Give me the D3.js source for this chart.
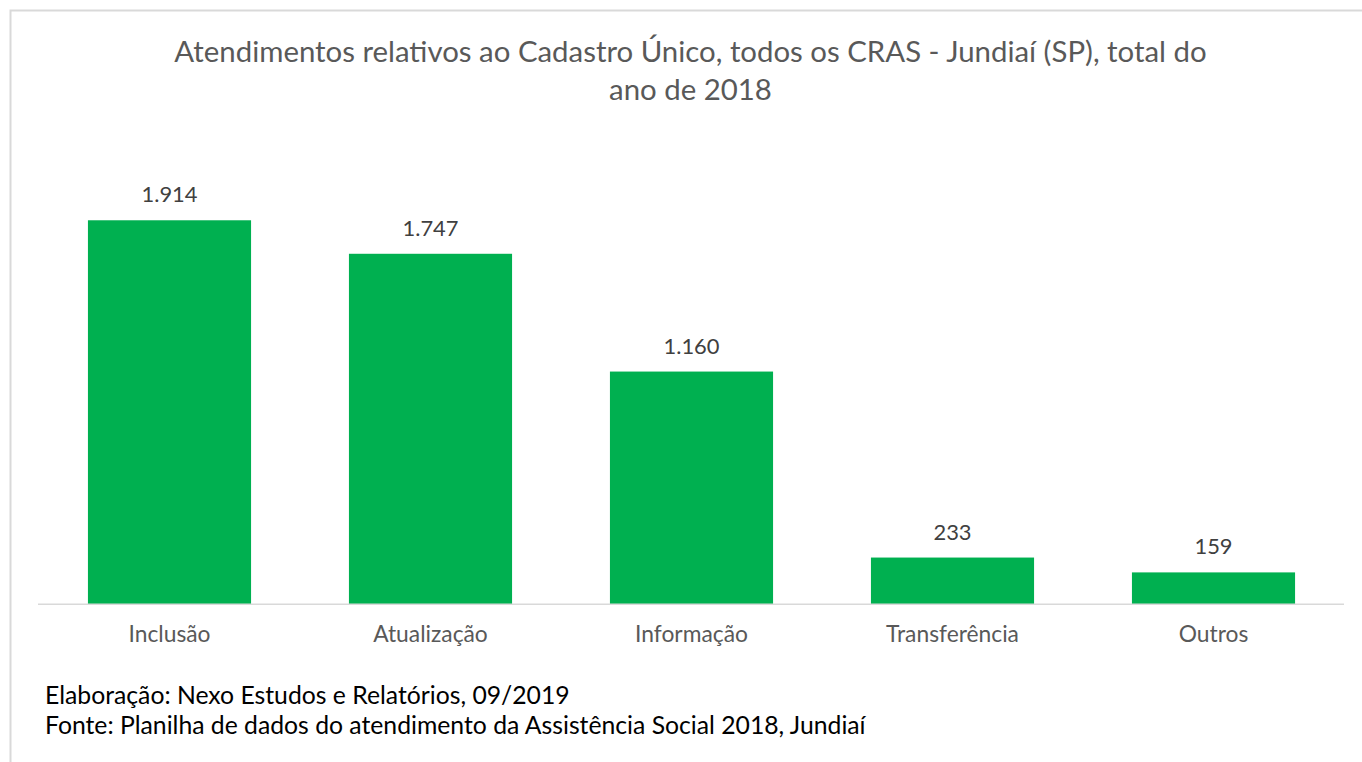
<!DOCTYPE html>
<html>
<head>
<meta charset="utf-8">
<script src="https://cdn.jsdelivr.net/npm/d3@7"></script>
<style>
  html, body { margin: 0; padding: 0; background: #fff; }
  svg { display: block; }
  text { font-family: Lato, "Open Sans", sans-serif; }
</style>
</head>
<body>
<svg id="chart" width="1362" height="762"></svg>
<script>
// Atendimentos do Cadastro Único por tipo, CRAS de Jundiaí, 2018
const categories = ["Inclusão", "Atualização", "Informação", "Transferência", "Outros"];
const values = [1914, 1747, 1160, 233, 159];
const titleLines = [
  "Atendimentos relativos ao Cadastro Único, todos os CRAS - Jundiaí (SP), total do",
  "ano de 2018"
];
const notes = [
  "Elaboração: Nexo Estudos e Relatórios, 09/2019",
  "Fonte: Planilha de dados do atendimento da Assistência Social 2018, Jundiaí"
];

const svg = d3.select("#chart");
const W = 1362, H = 762;

// chart frame (runs off the right and bottom edges)
svg.append("rect")
  .attr("x", 10.5).attr("y", 10.5)
  .attr("width", W + 20).attr("height", H + 20)
  .attr("fill", "#fff")
  .attr("stroke", "#d9d9d9").attr("stroke-width", 2);

const plot = { left: 39, right: 1344, top: 102.7, bottom: 604.3 };

const x = d3.scaleBand()
  .domain(categories)
  .range([plot.left, plot.right])
  .paddingInner(0.375)
  .paddingOuter(0.1875);

const y = d3.scaleLinear()
  .domain([0, 2500])
  .range([plot.bottom, plot.top]);

const fmt = d3.formatLocale({ decimal: ",", thousands: ".", grouping: [3], currency: ["R$", ""] }).format(",d");

// size a text so that a reference string spans the given width
function fitSize(sample, targetWidth, base) {
  const t = svg.append("text").attr("font-size", base).text(sample);
  const w = t.node().getComputedTextLength();
  t.remove();
  return base * targetWidth / w;
}

// title
const titleSize = fitSize(titleLines[0], 1033, 24);
svg.append("g").selectAll("text")
  .data(titleLines)
  .join("text")
  .attr("x", 690.5)
  .attr("y", (d, i) => 62 + i * 38)
  .attr("text-anchor", "middle")
  .attr("font-size", titleSize)
  .attr("fill", "#595959")
  .text(d => d);

// bars
svg.append("g").selectAll("rect")
  .data(values)
  .join("rect")
  .attr("x", (d, i) => x(categories[i]))
  .attr("width", x.bandwidth())
  .attr("y", d => y(d))
  .attr("height", d => y(0) - y(d))
  .attr("fill", "#00b050");

// category axis line
svg.append("line")
  .attr("x1", plot.left - 1).attr("x2", plot.right)
  .attr("y1", plot.bottom).attr("y2", plot.bottom)
  .attr("stroke", "#d9d9d9").attr("stroke-width", 1.5);

// value labels
const valueSize = fitSize("1.914", 56, 18);
svg.append("g").selectAll("text")
  .data(values)
  .join("text")
  .attr("x", (d, i) => x(categories[i]) + x.bandwidth() / 2)
  .attr("y", d => y(d) - 18)
  .attr("text-anchor", "middle")
  .attr("font-size", valueSize)
  .attr("fill", "#404040")
  .text(d => fmt(d));

// category labels
const catSize = fitSize("Transferência", 133, 18);
svg.append("g").selectAll("text")
  .data(categories)
  .join("text")
  .attr("x", d => x(d) + x.bandwidth() / 2)
  .attr("y", 642)
  .attr("text-anchor", "middle")
  .attr("font-size", catSize)
  .attr("fill", "#595959")
  .text(d => d);

// source notes
const noteSize = fitSize(notes[1], 821, 20);
svg.append("g").selectAll("text")
  .data(notes)
  .join("text")
  .attr("x", 45)
  .attr("y", (d, i) => 704 + i * 30)
  .attr("font-size", noteSize)
  .attr("fill", "#000")
  .text(d => d);
</script>
</body>
</html>
